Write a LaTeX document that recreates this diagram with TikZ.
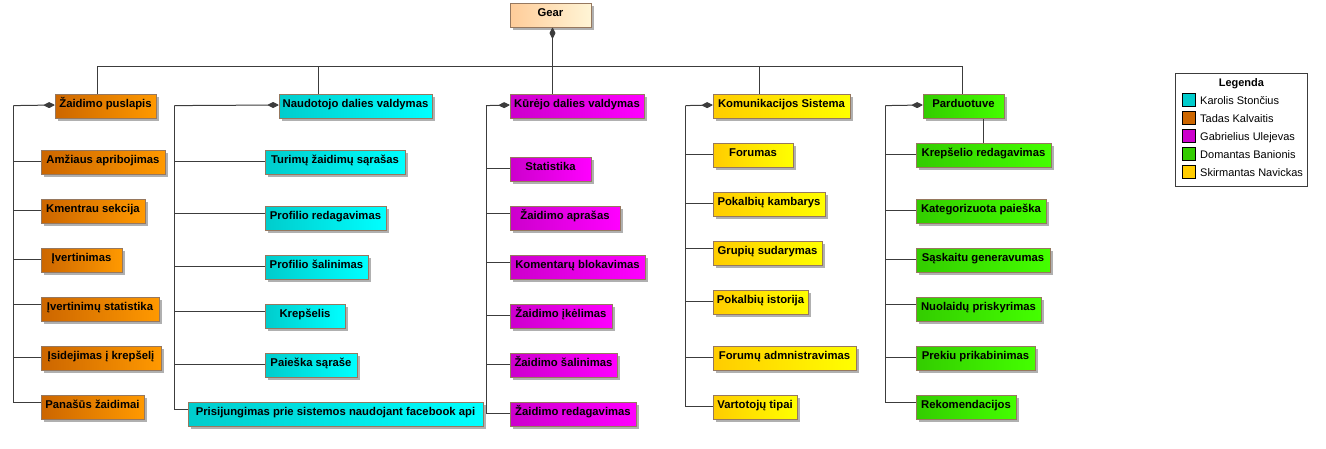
\documentclass[tikz,border=0pt]{standalone}
\usepackage{fontspec}
\setmainfont{Liberation Sans}
\usetikzlibrary{arrows.meta,shadows}
\definecolor{bord}{RGB}{150,120,95}
\definecolor{lin}{RGB}{60,60,60}
\definecolor{shd}{RGB}{176,176,176}
\definecolor{orA}{RGB}{204,102,0}\definecolor{orB}{RGB}{255,153,0}
\definecolor{cyA}{RGB}{0,204,204}\definecolor{cyB}{RGB}{0,255,255}
\definecolor{mgA}{RGB}{204,0,204}\definecolor{mgB}{RGB}{255,0,255}
\definecolor{yeA}{RGB}{255,204,0}\definecolor{yeB}{RGB}{255,255,0}
\definecolor{grA}{RGB}{51,204,0}\definecolor{grB}{RGB}{68,255,0}
\definecolor{geA}{RGB}{255,204,153}\definecolor{geB}{RGB}{255,245,214}
\tikzset{
  box/.style={draw=bord, line width=1pt, inner sep=0pt, minimum height=24pt,
    text height=8pt, text depth=5.6pt, font=\bfseries\fontsize{11.3}{13}\selectfont,
    drop shadow={shadow xshift=3pt, shadow yshift=-3pt, fill=shd, opacity=1}},
  orbox/.style={box, left color=orA, right color=orB},
  cybox/.style={box, left color=cyA, right color=cyB},
  mgbox/.style={box, left color=mgA, right color=mgB},
  yebox/.style={box, left color=yeA, right color=yeB},
  grbox/.style={box, left color=grA, right color=grB},
  gebox/.style={box, left color=geA, right color=geB},
  conn/.style={draw=lin, line width=1pt},
  comp/.style={conn, -{Diamond[length=12pt,width=6pt,line join=round]}},
  swatch/.style={draw=black, line width=1pt, minimum size=13pt, inner sep=0pt},
  legtext/.style={anchor=base west, inner sep=0pt, font=\fontsize{11}{13}\selectfont},
}
\newcommand\bx[6]{\node[#2, minimum width={#5-#3}] (#1) at ({(#3+#5)/2},{#4+12.3}) {#6};}
\begin{document}
\begin{tikzpicture}[x=1pt,y=-1pt]
\useasboundingbox (0,0) rectangle (1326,448);
% boxes
\bx{gear}{gebox}{510}{3}{591}{Gear}
\bx{zp}{orbox}{55}{94}{156}{Žaidimo puslapis}
\bx{c1a}{orbox}{41}{150}{165}{Amžiaus apribojimas}
\bx{c1b}{orbox}{41}{199}{145}{Kmentrau sekcija}
\bx{c1c}{orbox}{41}{248}{122}{Įvertinimas}
\bx{c1d}{orbox}{41}{297}{159}{Įvertinimų statistika}
\bx{c1e}{orbox}{41}{346}{161}{Įsidejimas į krepšelį}
\bx{c1f}{orbox}{41}{395}{144}{Panašūs žaidimai}
\bx{nd}{cybox}{279}{94}{432}{Naudotojo dalies valdymas}
\bx{c2a}{cybox}{265}{150}{405}{Turimų žaidimų sąrašas}
\bx{c2b}{cybox}{265}{206}{386}{Profilio redagavimas}
\bx{c2c}{cybox}{265}{255}{368}{Profilio šalinimas}
\bx{c2d}{cybox}{265}{304}{345}{Krepšelis}
\bx{c2e}{cybox}{265}{353}{357}{Paieška sąraše}
\bx{c2f}{cybox}{188}{402}{483}{Prisijungimas prie sistemos naudojant facebook api}
\bx{kd}{mgbox}{510}{94}{644}{Kūrėjo dalies valdymas}
\bx{c3a}{mgbox}{510}{157}{591}{Statistika}
\bx{c3b}{mgbox}{510}{206}{620}{Žaidimo aprašas}
\bx{c3c}{mgbox}{510}{255}{645}{Komentarų blokavimas}
\bx{c3d}{mgbox}{510}{304}{612}{Žaidimo įkėlimas}
\bx{c3e}{mgbox}{510}{353}{617}{Žaidimo šalinimas}
\bx{c3f}{mgbox}{510}{402}{636}{Žaidimo redagavimas}
\bx{ks}{yebox}{713}{94}{850}{Komunikacijos Sistema}
\bx{c4a}{yebox}{713}{143}{793}{Forumas}
\bx{c4b}{yebox}{713}{192}{825}{Pokalbių kambarys}
\bx{c4c}{yebox}{713}{241}{822}{Grupių sudarymas}
\bx{c4d}{yebox}{713}{290}{808}{Pokalbių istorija}
\bx{c4e}{yebox}{713}{346}{856}{Forumų admnistravimas}
\bx{c4f}{yebox}{713}{395}{797}{Vartotojų tipai}
\bx{pd}{grbox}{923}{94}{1004}{Parduotuve}
\bx{c5a}{grbox}{916}{143}{1051}{Krepšelio redagavimas}
\bx{c5b}{grbox}{916}{199}{1046}{Kategorizuota paieška}
\bx{c5c}{grbox}{916}{248}{1050}{Sąskaitu generavumas}
\bx{c5d}{grbox}{916}{297}{1041}{Nuolaidų priskyrimas}
\bx{c5e}{grbox}{916}{346}{1035}{Prekiu prikabinimas}
\bx{c5f}{grbox}{916}{395}{1016}{Rekomendacijos}
% bus
\coordinate (b1) at (97,66.3);
\coordinate (b2) at (318.3,66.3);
\coordinate (b4) at (759.7,66.3);
\coordinate (b5) at (962.3,66.3);
\draw[conn] (b1) -- (b5);
\draw[conn] (b1) -- (b1 |- zp.north);
\draw[conn] (b2) -- (b2 |- nd.north);
\draw[conn] (b4) -- (b4 |- ks.north);
\draw[conn] (b5) -- (b5 |- pd.north);
\draw[conn,{Diamond[length=12pt,width=6pt,line join=round]}-] ([xshift=2pt]gear.south) -- ([xshift=2pt]gear.south |- kd.north);
\draw[conn] ([xshift=19.8pt]pd.south) -- ([xshift=19.8pt]pd.south |- c5a.north);
% spines
\coordinate (s1) at (13.3,105.6);
\coordinate (s2) at (174.3,105.6);
\coordinate (s3) at (486,105.6);
\coordinate (s4) at (685.7,105.6);
\coordinate (s5) at (885.3,105.6);
\draw[comp] (s1) -- ([yshift=1.3pt]zp.west);
\draw[comp] (s2) -- ([yshift=1.3pt]nd.west);
\draw[comp] (s3) -- ([yshift=1.3pt]kd.west);
\draw[comp] (s4) -- ([yshift=1.3pt]ks.west);
\draw[comp] (s5) -- ([yshift=1.3pt]pd.west);
\foreach \c/\s in {c1a/1.3,c1b/1.3,c1c/1.3,c1d/5.3,c1e/1.3,c1f/5.3}
  \draw[conn] (s1) |- ([yshift=\s pt]\c.west);
\foreach \c/\s in {c2a/1.3,c2b/5.3,c2c/1.3,c2d/5.3,c2e/1.3,c2f/5.3}
  \draw[conn] (s2) |- ([yshift=\s pt]\c.west);
\foreach \c/\s in {c3a/1.3,c3b/5.3,c3c/5.3,c3d/1.3,c3e/1.3,c3f/1.3}
  \draw[conn] (s3) |- ([yshift=\s pt]\c.west);
\foreach \c/\s in {c4a/1.3,c4b/1.3,c4c/5.3,c4d/1.3,c4e/1.3,c4f/1.3}
  \draw[conn] (s4) |- ([yshift=\s pt]\c.west);
\foreach \c/\s in {c5a/1.3,c5b/1.3,c5c/1.3,c5d/5.3,c5e/1.3,c5f/5.3}
  \draw[conn] (s5) |- ([yshift=\s pt]\c.west);
% legend
\node[draw=lin, line width=1pt, fill=white, minimum width=131.6pt, minimum height=113.3pt, inner sep=0pt] (leg) at (1241.5,130.3) {};
\node[anchor=base, inner sep=0pt, font=\bfseries\fontsize{11}{13}\selectfont] (legt) at (1241.4,86) {Legenda};
\foreach \i/\col/\t in {0/cyA/Karolis Stončius,1/orA/Tadas Kalvaitis,2/mgA/Gabrielius Ulejevas,3/grA/Domantas Banionis,4/yeA/Skirmantas Navickas}{
  \node[swatch, fill=\col] (sw\i) at (1188.8,{100+18*\i}) {};
  \node[legtext] (lt\i) at (1200,{104.3+18*\i}) {\t};
}
\end{tikzpicture}
\end{document}
